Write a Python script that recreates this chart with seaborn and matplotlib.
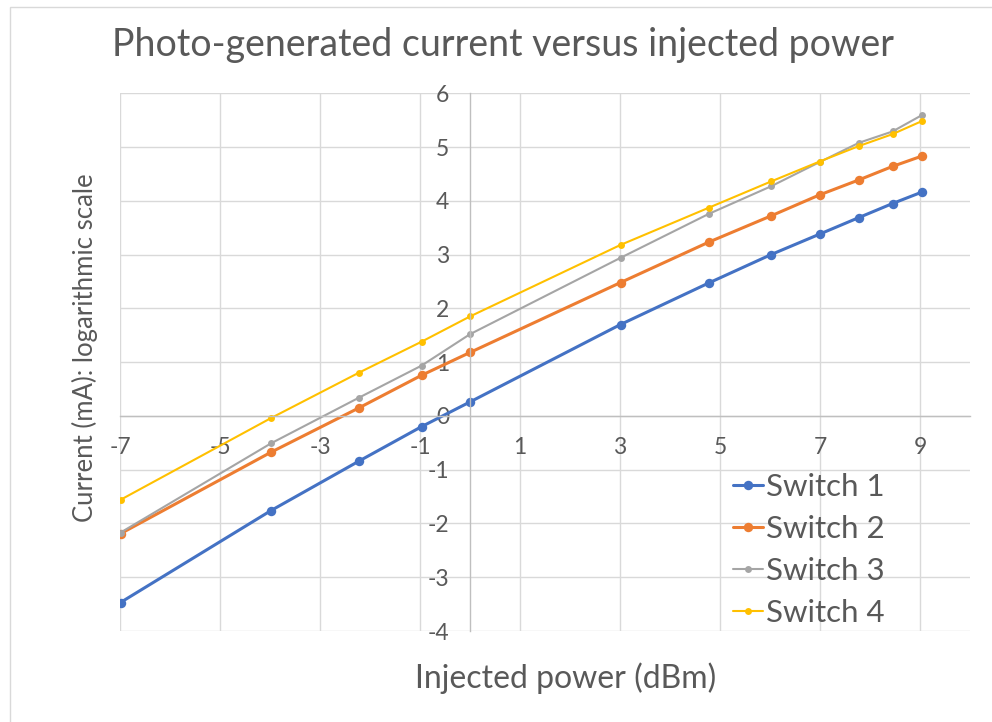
import matplotlib
matplotlib.use("Agg")
import matplotlib.pyplot as plt
import seaborn as sns
import pandas as pd
from matplotlib.patches import Rectangle

# Injected optical power (dBm) for each measurement step
power_dbm = [-6.99, -3.98, -2.22, -0.97, 0.0, 3.01, 4.77, 6.02, 6.99, 7.78, 8.45, 9.03]

# Photo-generated current, log scale
switch1 = [-3.47, -1.76, -0.84, -0.20, 0.26, 1.70, 2.47, 3.00, 3.38, 3.69, 3.95, 4.16]
switch2 = [-2.19, -0.675, 0.15, 0.755, 1.18, 2.48, 3.23, 3.72, 4.11, 4.39, 4.64, 4.83]
switch3 = [-2.17, -0.51, 0.34, 0.935, 1.52, 2.94, 3.755, 4.27, 4.72, 5.08, 5.29, 5.59]
switch4 = [-1.56, -0.04, 0.805, 1.38, 1.85, 3.18, 3.87, 4.36, 4.73, 5.02, 5.24, 5.48]

series_names = ["Switch 1", "Switch 2", "Switch 3", "Switch 4"]
x_ticks = [-7, -5, -3, -1, 1, 3, 5, 7, 9]
y_ticks = [-4, -3, -2, -1, 0, 1, 2, 3, 4, 5, 6]

colors = ["#4472C4", "#ED7D31", "#A5A5A5", "#FFC000"]
widths = [2.2, 2.2, 1.5, 1.5]
msizes = [6.8, 6.8, 5.0, 5.0]

sns.set_theme(style="whitegrid")
plt.rcParams["font.family"] = ["Lato", "DejaVu Sans"]
plt.rcParams["axes.unicode_minus"] = False

text_color = "#595959"
grid_color = "#D9D9D9"

fig = plt.figure(figsize=(9.92, 7.22), dpi=100)
ax = fig.add_axes([120 / 992, 1 - 631 / 722, 850 / 992, (631 - 93.3) / 722])

df = pd.DataFrame({"power": power_dbm * 4,
                   "current": switch1 + switch2 + switch3 + switch4,
                   "series": [n for n in series_names for _ in power_dbm]})

for name, c, lw, ms in zip(series_names, colors, widths, msizes):
    sub = df[df["series"] == name]
    sns.lineplot(data=sub, x="power", y="current", ax=ax, color=c, lw=lw,
                 marker="o", markersize=ms, markeredgewidth=0, label=name,
                 sort=False, estimator=None)

ax.set_xlim(-7, 10)
ax.set_ylim(-4, 6)
ax.set_xticks(x_ticks)
ax.set_yticks(y_ticks)
ax.grid(True, color=grid_color, lw=1.0)
ax.set_axisbelow(True)

for side in ["top", "right"]:
    ax.spines[side].set_visible(False)
ax.spines["left"].set_position(("data", 0))
ax.spines["bottom"].set_position(("data", 0))
for side in ["left", "bottom"]:
    ax.spines[side].set_color("#BFBFBF")
    ax.spines[side].set_linewidth(1.0)

ax.tick_params(axis="both", length=0, labelsize=16.5, labelcolor=text_color)
ax.tick_params(axis="x", pad=15)
ax.tick_params(axis="y", pad=15)
ax.set_xlabel("")
ax.set_ylabel("")

fig.text(503 / 992, 1 - 45 / 722, "Photo-generated current versus injected power",
         ha="center", va="center", fontsize=27, color=text_color)
fig.text(566 / 992, 1 - 678 / 722, "Injected power (dBm)",
         ha="center", va="center", fontsize=23, color=text_color)
fig.text(85 / 992, 1 - 348 / 722, "Current (mA): logarithmic scale",
         ha="center", va="center", rotation=90, fontsize=18.5, color=text_color)

leg = ax.legend(loc="upper left", bbox_to_anchor=((733 - 120) / 850, (631 - 473) / 537.7),
                frameon=False, fontsize=22.5, handlelength=0.95, handletextpad=0.1,
                labelspacing=0.45, borderaxespad=0, borderpad=0)
for t in leg.get_texts():
    t.set_color(text_color)

# chart-area border
fig.patches.append(Rectangle((10 / 992, -0.1), 1.2, 1 - 7 / 722 + 0.1,
                             transform=fig.transFigure, fill=False,
                             edgecolor="#D9D9D9", lw=1.0))

fig.savefig("out.png", dpi=100)
